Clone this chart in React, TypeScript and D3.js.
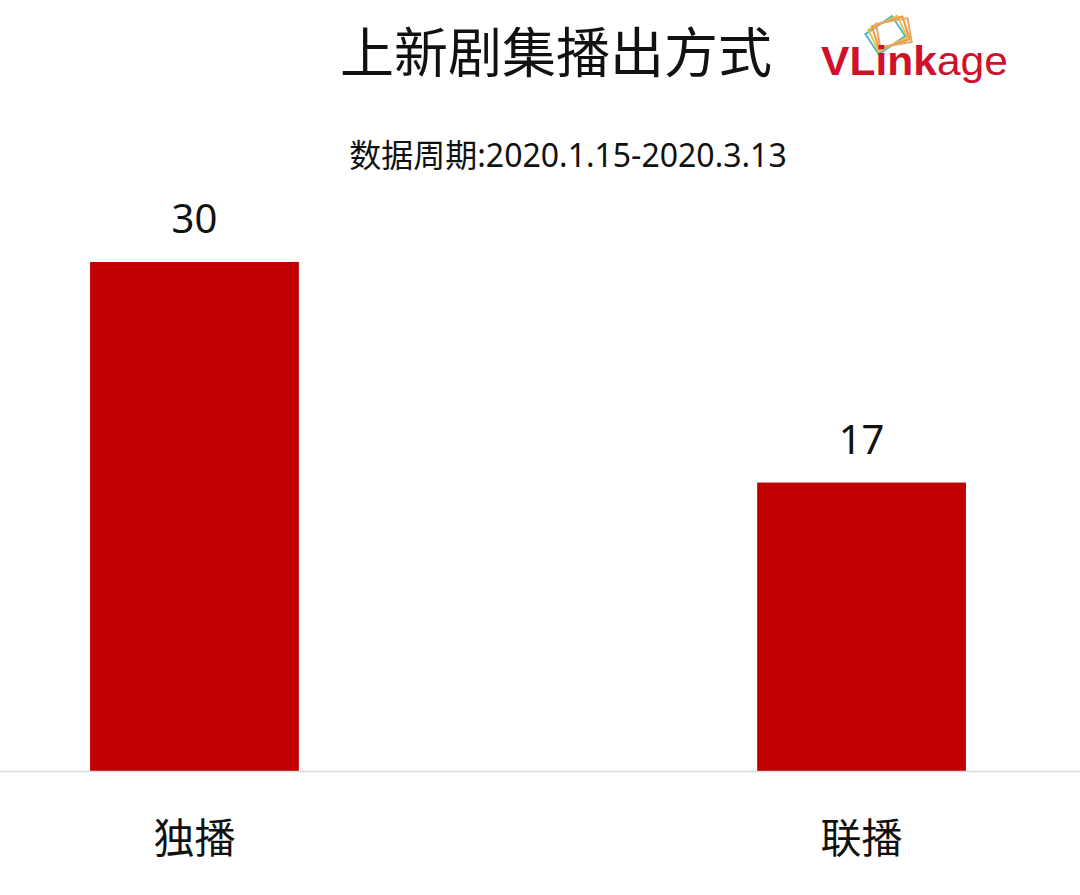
import React from "react";
import * as d3 from "d3";

const categories = ["独播", "联播"];
const values = [30, 17];
const title = "上新剧集播出方式";
const subtitle = "数据周期:2020.1.15-2020.3.13";

const W = 1080;
const H = 895;
const FONT = "'Noto Sans CJK SC', 'Noto Sans', sans-serif";
const NUM_FONT = "'Noto Sans', 'Noto Sans CJK SC', sans-serif";

const Logo: React.FC = () => {
	const frames = [
		{ color: "#4fb8c4", rot: -34, dx: 0 },
		{ color: "#e8c24a", rot: -26, dx: 3 },
		{ color: "#ef9a3c", rot: -18, dx: 6 },
		{ color: "#e6a868", rot: -10, dx: 9 },
	];
	return (
		<g>
			{frames.map((f, i) => (
				<rect
					key={i}
					x={-18 + f.dx}
					y={-12}
					width={32}
					height={24}
					fill="none"
					stroke={f.color}
					strokeWidth={2}
					transform={`translate(887,34) rotate(${f.rot})`}
				/>
			))}
			<text
				x={821}
				y={75}
				fontFamily="'Liberation Sans', Arial, sans-serif"
				fontSize={41}
				fill="#d0112b"
				textLength={187}
				lengthAdjust="spacingAndGlyphs"
			>
				<tspan fontWeight="bold">VLink</tspan>
				<tspan>age</tspan>
			</text>
		</g>
	);
};

const App: React.FC = () => {
	const x = d3
		.scaleBand<string>()
		.domain(categories)
		.range([0, 1056])
		.paddingInner(0.687)
		.paddingOuter(0.135);

	const y = d3.scaleLinear().domain([0, 30]).range([771, 262]);

	return (
		<svg
			width={W}
			height={H}
			style={{ position: "absolute", left: 0, top: 0, background: "#fff" }}
		>
			<rect width={W} height={H} fill="#fff" />
			<text
				x={556}
				y={73}
				textAnchor="middle"
				fontFamily={FONT}
				fontSize={54}
				fill="#111"
			>
				{title}
			</text>
			<Logo />
			<text
				x={568}
				y={167}
				textAnchor="middle"
				fontFamily={NUM_FONT}
				fontSize={32}
				fill="#111"
			>
				{subtitle}
			</text>

			{categories.map((c, i) => {
				const bx = x(c) ?? 0;
				const cx = bx + x.bandwidth() / 2;
				return (
					<g key={c}>
						<rect
							x={bx}
							y={y(values[i])}
							width={x.bandwidth()}
							height={y(0) - y(values[i])}
							fill="#c00000"
						/>
						<text
							x={cx}
							y={y(values[i]) - 29}
							textAnchor="middle"
							fontFamily={NUM_FONT}
							fontSize={40}
							fill="#111"
						>
							{values[i]}
						</text>
						<text
							x={cx}
							y={853}
							textAnchor="middle"
							fontFamily={FONT}
							fontSize={41}
							fill="#111"
						>
							{c}
						</text>
					</g>
				);
			})}

			<line x1={0} x2={W} y1={y(0) + 0.5} y2={y(0) + 0.5} stroke="#d9d9d9" strokeWidth={1.5} />
		</svg>
	);
};

export default App;
